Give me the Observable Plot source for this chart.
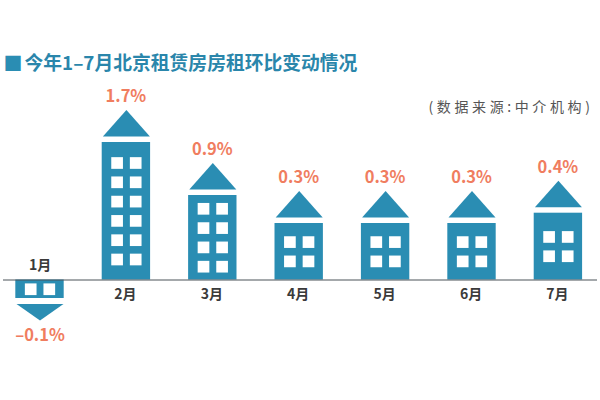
<!DOCTYPE html>
<html lang="zh">
<head>
<meta charset="utf-8">
<script src="https://cdn.jsdelivr.net/npm/d3@7"></script>
<script src="https://cdn.jsdelivr.net/npm/@observablehq/plot@0.6"></script>
<style>html,body{margin:0;padding:0;background:#fff}svg{display:block}.source-note text{letter-spacing:3.6px}</style>
</head>
<body>
<div id="chart"></div>
<script>
const months = ["1月","2月","3月","4月","5月","6月","7月"];
const changes = [-0.1, 1.7, 0.9, 0.3, 0.3, 0.3, 0.4];
const valueLabels = ["–0.1%","1.7%","0.9%","0.3%","0.3%","0.3%","0.4%"];
const windowRows = [1, 6, 4, 2, 2, 2, 2];
const titleText = "今年1–7月北京租赁房房租环比变动情况";
const sourceText = "(数据来源:中介机构)";

const rows = months.map((month, i) => ({month, value: changes[i], label: valueLabels[i], windows: windowRows[i]}));
const positive = rows.filter(d => d.value >= 0);
const negative = rows.filter(d => d.value < 0);

const blue = "#2a8db3";
const coral = "#f07d5f";
const font = "'Noto Sans CJK SC','Noto Sans',sans-serif";

// The source drawing is pictorial: heights follow the values through a piecewise scale.
const yDomain = [-0.1, 0, 0.3, 0.4, 0.9, 1.7];
const yRange = [298, 279.5, 223, 212.7, 195, 142];
const yPixel = d3.scaleLinear(yDomain, yRange);

const roof = (tip, base, halfWidth) => ({
  draw(ctx) {
    ctx.moveTo(-halfWidth, base);
    ctx.lineTo(0, tip);
    ctx.lineTo(halfWidth, base);
    ctx.closePath();
  }
});

const windowMarks = rows.flatMap(d => {
  const middle = (yPixel(0) - yPixel(d.value)) / 2;
  return d3.range(d.windows).flatMap(r => [-9.3, 9.3].map(dx =>
    Plot.dot([d], {
      x: "month", y: "value", symbol: "square", r: 6.6, fill: "white", dx,
      dy: middle + (r - (d.windows - 1) / 2) * 19.3
    })
  ));
});

const chart = Plot.plot({
  width: 600, height: 400,
  marginTop: 0, marginBottom: 0, marginLeft: 3, marginRight: 3,
  style: {background: "#fff", fontFamily: font},
  x: {type: "band", domain: months, range: [-3.7, 601.1], paddingInner: 0.44, paddingOuter: 0.22, round: false, axis: null},
  y: {type: "linear", domain: yDomain, range: yRange, axis: null},
  marks: [
    Plot.barY(rows, {x: "month", y1: 0, y2: "value", fill: blue}),
    Plot.dot(positive, {x: "month", y: "value", symbol: roof(-32.5, -6, 23.5), r: 10, fill: blue}),
    Plot.dot(negative, {x: "month", y: "value", symbol: roof(22, 5.5, 23.5), r: 10, fill: blue}),
    ...windowMarks,
    Plot.ruleY([0], {stroke: "#4a5358", strokeWidth: 1}),
    Plot.text(positive, {x: "month", y: 0, text: "month", dx: -1, dy: 14.5, fontSize: 14, fontWeight: 700, fill: "#3a3a3a"}),
    Plot.text(negative, {x: "month", y: 0, text: "month", dy: -14, fontSize: 14, fontWeight: 700, fill: "#3a3a3a"}),
    Plot.text(positive, {x: "month", y: "value", text: "label", dx: -0.5, dy: -45.5, fontSize: 16.5, fontWeight: 700, fill: coral}),
    Plot.text(negative, {x: "month", y: "value", text: "label", dy: 37, fontSize: 16.5, fontWeight: 700, fill: coral}),
    Plot.text(["■"], {frameAnchor: "top-left", dx: 0, dy: 64, text: d => d, lineAnchor: "middle", textAnchor: "start", fontSize: 19, fill: blue}),
    Plot.text([titleText], {frameAnchor: "top-left", dx: 21, dy: 63.5, text: d => d, lineAnchor: "middle", textAnchor: "start", fontSize: 18.8, fontWeight: 700, fill: "#2a86ab"}),
    Plot.text([sourceText], {className: "source-note", frameAnchor: "top-right", dx: -4, dy: 107, text: d => d, lineAnchor: "middle", textAnchor: "end", fontSize: 14, fill: "#555"})
  ]
});
document.getElementById("chart").append(chart);
</script>
</body>
</html>
